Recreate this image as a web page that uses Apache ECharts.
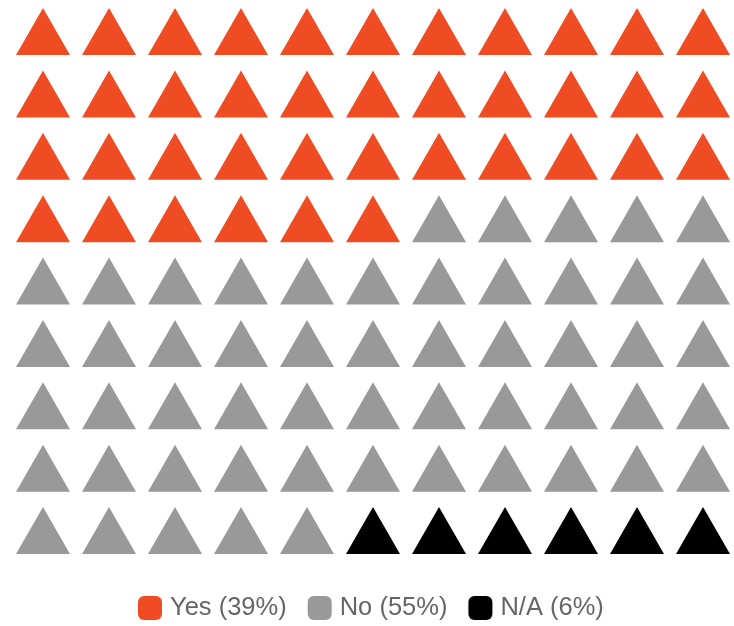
<!DOCTYPE html>
<html>
<head>
<meta charset="utf-8">
<script src="https://cdn.jsdelivr.net/npm/echarts@6/dist/echarts.min.js"></script>
<style>html,body{margin:0;padding:0;background:#fff;}#c{width:734px;height:626px;}</style>
</head>
<body>
<div id="c"></div>
<script>
// Categories and their cell counts (row-major fill, 11 columns x 9 rows)
var categories = ['Yes (39%)', 'No (55%)', 'N/A (6%)'];
var cellCounts = [39, 54, 6];
var colors = ['#F04C23', '#999999', '#000000'];
var columns = 11;
var rows = 9;

var seriesData = [[], [], []];
var idx = 0;
for (var k = 0; k < cellCounts.length; k++) {
  for (var n = 0; n < cellCounts[k]; n++) {
    seriesData[k].push([idx % columns, Math.floor(idx / columns)]);
    idx++;
  }
}

var chart = echarts.init(document.getElementById('c'));
chart.setOption({
  animation: false,
  grid: { left: 43, right: 31, top: 31.5, bottom: 95.5 },
  xAxis: { type: 'value', min: 0, max: columns - 1, show: false },
  yAxis: { type: 'value', min: 0, max: rows - 1, inverse: true, show: false },
  legend: {
    data: categories,
    top: 595,
    left: 138,
    padding: 0,
    icon: 'roundRect',
    itemWidth: 24,
    itemHeight: 24,
    itemGap: 21,
    itemStyle: { opacity: 1 },
    textStyle: { fontSize: 25.5, color: '#666', fontFamily: 'Liberation Sans, Arial, sans-serif', padding: [0, 0, 0, 3] }
  },
  series: categories.map(function (name, i) {
    return {
      name: name,
      type: 'scatter',
      symbol: 'triangle',
      symbolSize: [54, 47],
      itemStyle: { color: colors[i], opacity: 1 },
      emphasis: { disabled: true },
      data: seriesData[i]
    };
  })
});
</script>
</body>
</html>
